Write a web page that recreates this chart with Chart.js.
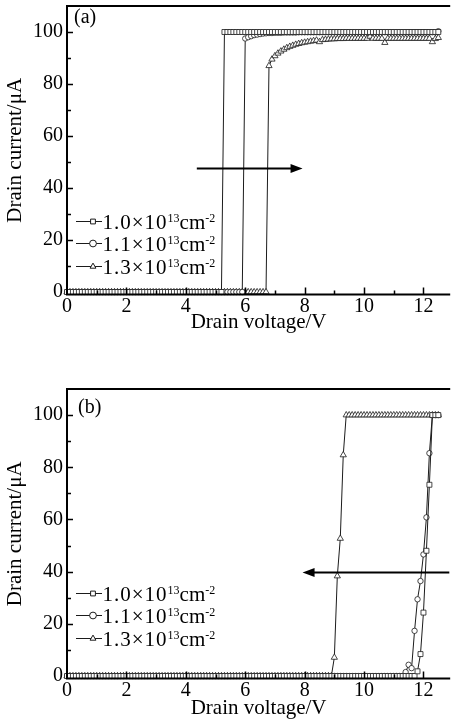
<!DOCTYPE html>
<html>
<head>
<meta charset="utf-8">
<script src="https://cdn.jsdelivr.net/npm/chart.js@4.4.0/dist/chart.umd.min.js"></script>
<style>
html, body { margin: 0; padding: 0; background: #fff; overflow: hidden; }
#wrapA { position: absolute; left: 0; top: 0; width: 455px; height: 340px; }
#wrapB { position: absolute; left: 0; top: 362px; width: 455px; height: 363px; }
</style>
</head>
<body>
<div id="wrapA"><canvas id="chartA"></canvas></div>
<div id="wrapB"><canvas id="chartB"></canvas></div>
<script>
// drain voltage sweep (V)
const voltage = [
  0, 0.1, 0.2, 0.3, 0.4, 0.5, 0.6, 0.7, 0.8, 0.9,
  1, 1.1, 1.2, 1.3, 1.4, 1.5, 1.6, 1.7, 1.8, 1.9,
  2, 2.1, 2.2, 2.3, 2.4, 2.5, 2.6, 2.7, 2.8, 2.9,
  3, 3.1, 3.2, 3.3, 3.4, 3.5, 3.6, 3.7, 3.8, 3.9,
  4, 4.1, 4.2, 4.3, 4.4, 4.5, 4.6, 4.7, 4.8, 4.9,
  5, 5.1, 5.2, 5.3, 5.4, 5.5, 5.6, 5.7, 5.8, 5.9,
  6, 6.1, 6.2, 6.3, 6.4, 6.5, 6.6, 6.7, 6.8, 6.9,
  7, 7.1, 7.2, 7.3, 7.4, 7.5, 7.6, 7.7, 7.8, 7.9,
  8, 8.1, 8.2, 8.3, 8.4, 8.5, 8.6, 8.7, 8.8, 8.9,
  9, 9.1, 9.2, 9.3, 9.4, 9.5, 9.6, 9.7, 9.8, 9.9,
  10, 10.1, 10.2, 10.3, 10.4, 10.5, 10.6, 10.7, 10.8, 10.9,
  11, 11.1, 11.2, 11.3, 11.4, 11.5, 11.6, 11.7, 11.8, 11.9,
  12, 12.1, 12.2, 12.3, 12.4, 12.5
];

// (a) drain current (uA)
const a10 = [
  0, 0, 0, 0, 0, 0, 0, 0, 0, 0,
  0, 0, 0, 0, 0, 0, 0, 0, 0, 0,
  0, 0, 0, 0, 0, 0, 0, 0, 0, 0,
  0, 0, 0, 0, 0, 0, 0, 0, 0, 0,
  0, 0, 0, 0, 0, 0, 0, 0, 0, 0,
  0, 0, 0, 100, 100, 100, 100, 100, 100, 100,
  100, 100, 100, 100, 100, 100, 100, 100, 100, 100,
  100, 100, 100, 100, 100, 100, 100, 100, 100, 100,
  100, 100, 100, 100, 100, 100, 100, 100, 100, 100,
  100, 100, 100, 100, 100, 100, 100, 100, 100, 100,
  100, 100, 100, 100, 100, 100, 100, 100, 100, 100,
  100, 100, 100, 100, 100, 100, 100, 100, 100, 100,
  100, 100, 100, 100, 100, 100
];
const a11 = [
  0, 0, 0, 0, 0, 0, 0, 0, 0, 0,
  0, 0, 0, 0, 0, 0, 0, 0, 0, 0,
  0, 0, 0, 0, 0, 0, 0, 0, 0, 0,
  0, 0, 0, 0, 0, 0, 0, 0, 0, 0,
  0, 0, 0, 0, 0, 0, 0, 0, 0, 0,
  0, 0, 0, 0, 0, 0, 0, 0, 0, 0,
  97.5, 98.0, 98.4, 98.8, 99.0, 99.2, 99.4, 99.5, 99.6, 99.6,
  99.7, 99.7, 99.7, 99.8, 99.8, 99.8, 99.8, 99.8, 99.9, 99.9,
  99.9, 99.9, 99.9, 99.9, 99.9, 99.9, 99.9, 99.9, 99.9, 99.9,
  99.9, 99.9, 99.9, 99.9, 99.9, 99.9, 99.9, 99.9, 99.9, 99.9,
  99.9, 99.9, 99.9, 99.9, 99.9, 99.9, 99.9, 99.9, 99.9, 99.9,
  99.9, 99.9, 99.9, 99.9, 99.9, 99.9, 99.9, 99.9, 99.9, 99.9,
  99.9, 99.9, 99.9, 99.9, 99.9, 100.3
];
const a13 = [
  0, 0, 0, 0, 0, 0, 0, 0, 0, 0,
  0, 0, 0, 0, 0, 0, 0, 0, 0, 0,
  0, 0, 0, 0, 0, 0, 0, 0, 0, 0,
  0, 0, 0, 0, 0, 0, 0, 0, 0, 0,
  0, 0, 0, 0, 0, 0, 0, 0, 0, 0,
  0, 0, 0, 0, 0, 0, 0, 0, 0, 0,
  0, 0, 0, 0, 0, 0, 0, 0, 87.0, 89.5,
  90.8, 91.8, 92.6, 93.3, 93.9, 94.4, 94.8, 95.2, 95.5, 95.8,
  96.0, 96.2, 96.4, 96.6, 96.8, 96.2, 97.0, 97.1, 97.2, 97.3,
  97.3, 97.4, 97.4, 97.4, 97.5, 97.5, 97.5, 97.5, 97.5, 97.5,
  97.5, 97.5, 98.3, 97.5, 97.5, 97.5, 97.5, 95.9, 97.5, 97.5,
  97.5, 97.5, 97.5, 97.5, 97.5, 97.5, 97.5, 97.5, 97.5, 97.5,
  97.5, 97.5, 97.5, 96.2, 97.4, 97.8
];

// (b) drain current (uA)
const b10 = [
  0, 0, 0, 0, 0, 0, 0, 0, 0, 0,
  0, 0, 0, 0, 0, 0, 0, 0, 0, 0,
  0, 0, 0, 0, 0, 0, 0, 0, 0, 0,
  0, 0, 0, 0, 0, 0, 0, 0, 0, 0,
  0, 0, 0, 0, 0, 0, 0, 0, 0, 0,
  0, 0, 0, 0, 0, 0, 0, 0, 0, 0,
  0, 0, 0, 0, 0, 0, 0, 0, 0, 0,
  0, 0, 0, 0, 0, 0, 0, 0, 0, 0,
  0, 0, 0, 0, 0, 0, 0, 0, 0, 0,
  0, 0, 0, 0, 0, 0, 0, 0, 0, 0,
  0, 0, 0, 0, 0, 0, 0, 0, 0, 0,
  0, 0, 0, 0, 0, 0, 0, 0, 1.8, 8.4,
  24.3, 48.0, 73.3, 100, 100, 100
];
const b11 = [
  0, 0, 0, 0, 0, 0, 0, 0, 0, 0,
  0, 0, 0, 0, 0, 0, 0, 0, 0, 0,
  0, 0, 0, 0, 0, 0, 0, 0, 0, 0,
  0, 0, 0, 0, 0, 0, 0, 0, 0, 0,
  0, 0, 0, 0, 0, 0, 0, 0, 0, 0,
  0, 0, 0, 0, 0, 0, 0, 0, 0, 0,
  0, 0, 0, 0, 0, 0, 0, 0, 0, 0,
  0, 0, 0, 0, 0, 0, 0, 0, 0, 0,
  0, 0, 0, 0, 0, 0, 0, 0, 0, 0,
  0, 0, 0, 0, 0, 0, 0, 0, 0, 0,
  0, 0, 0, 0, 0, 0, 0, 0, 0, 0,
  0, 0, 0, 0, 1.5, 4.3, 3.0, 17.3, 29.4, 36.4,
  46.6, 60.8, 85.4, 100, 100, 100
];
const b13 = [
  0, 0, 0, 0, 0, 0, 0, 0, 0, 0,
  0, 0, 0, 0, 0, 0, 0, 0, 0, 0,
  0, 0, 0, 0, 0, 0, 0, 0, 0, 0,
  0, 0, 0, 0, 0, 0, 0, 0, 0, 0,
  0, 0, 0, 0, 0, 0, 0, 0, 0, 0,
  0, 0, 0, 0, 0, 0, 0, 0, 0, 0,
  0, 0, 0, 0, 0, 0, 0, 0, 0, 0,
  0, 0, 0, 0, 0, 0, 0, 0, 0, 0,
  0, 0, 0, 0, 0, 0, 0, 0, 0, 0,
  7.1, 38.3, 52.7, 84.7, 100, 100, 100, 100, 100, 100,
  100, 100, 100, 100, 100, 100, 100, 100, 100, 100,
  100, 100, 100, 100, 100, 100, 100, 100, 100, 100,
  100, 100, 100, 100, 100, 100
];

const xTicks = [0, 2, 4, 6, 8, 10, 12];
const xMinor = [1, 3, 5, 7, 9, 11];
const yTicks = [0, 20, 40, 60, 80, 100];
const yMinor = [10, 30, 50, 70, 90];
const doses = ['1.0', '1.1', '1.3'];
const markers = ['rect', 'circle', 'triangle'];
const markerSize = [3.5, 2.7, 3.6];

const SERIF = '"Liberation Serif", "Times New Roman", serif';
const INK = '#1b1b1b';

function noPad(s) {
  s.paddingTop = 0; s.paddingBottom = 0; s.paddingLeft = 0; s.paddingRight = 0;
}

// axes frame, inward ticks, arrow, panel letter and legend
const decorPlugin = {
  id: 'decor',
  afterDatasetsDraw(chart, args, o) {
    const { ctx, chartArea: a, scales: { x, y } } = chart;
    ctx.save();
    ctx.strokeStyle = '#000';
    ctx.lineWidth = 2;
    ctx.beginPath();
    ctx.moveTo(a.right, a.top);
    ctx.lineTo(a.left, a.top);
    ctx.lineTo(a.left, a.bottom);
    ctx.lineTo(a.right, a.bottom);
    ctx.stroke();

    ctx.lineWidth = 1.5;
    ctx.beginPath();
    xTicks.slice(1).forEach(v => {
      const px = Math.round(x.getPixelForValue(v)) + 0.5;
      ctx.moveTo(px, a.bottom); ctx.lineTo(px, a.bottom - 7);
    });
    xMinor.forEach(v => {
      const px = Math.round(x.getPixelForValue(v)) + 0.5;
      ctx.moveTo(px, a.bottom); ctx.lineTo(px, a.bottom - 4);
    });
    yTicks.slice(1).forEach(v => {
      const py = Math.round(y.getPixelForValue(v)) + 0.5;
      ctx.moveTo(a.left, py); ctx.lineTo(a.left + 6, py);
    });
    yMinor.forEach(v => {
      const py = Math.round(y.getPixelForValue(v)) + 0.5;
      ctx.moveTo(a.left, py); ctx.lineTo(a.left + 4, py);
    });
    ctx.stroke();

    // arrow
    const ar = o.arrow;
    const x0 = x.getPixelForValue(ar.from);
    const x1 = x.getPixelForValue(ar.to);
    const py = Math.round(y.getPixelForValue(ar.at)) + 0.5;
    const dir = Math.sign(x1 - x0);
    ctx.lineWidth = 2;
    ctx.beginPath();
    ctx.moveTo(x0, py); ctx.lineTo(x1 - dir * 8, py);
    ctx.stroke();
    ctx.fillStyle = '#000';
    ctx.beginPath();
    ctx.moveTo(x1, py);
    ctx.lineTo(x1 - dir * 12, py - 4.5);
    ctx.lineTo(x1 - dir * 12, py + 4.5);
    ctx.closePath();
    ctx.fill();

    // panel letter
    ctx.fillStyle = '#000';
    ctx.font = '20px ' + SERIF;
    ctx.textBaseline = 'middle';
    ctx.textAlign = 'left';
    ctx.fillText(o.panel, a.left + o.panelDx, a.top + o.panelDy);

    // legend
    const lx = a.left + 9;
    doses.forEach((d, i) => {
      const ry = Math.round(a.top + o.legendTop + i * 22.3) + 0.5;
      ctx.strokeStyle = INK;
      ctx.lineWidth = 1;
      ctx.beginPath();
      ctx.moveTo(lx, ry); ctx.lineTo(lx + 26, ry);
      ctx.stroke();
      ctx.fillStyle = '#fff';
      ctx.strokeStyle = INK;
      Chart.helpers.drawPoint(ctx, { pointStyle: markers[i], radius: 3.4, borderWidth: 0.9 }, lx + 17, ry);
      ctx.fillStyle = '#000';
      ctx.textBaseline = 'alphabetic';
      const base = ry + 7;
      let tx = lx + 26.5;
      ctx.font = '21px ' + SERIF;
      const main = d + '\u00d710';
      ctx.letterSpacing = '1px';
      ctx.fillText(main, tx, base);
      tx += ctx.measureText(main).width;
      ctx.letterSpacing = '0px';
      ctx.font = '12px ' + SERIF;
      ctx.fillText('13', tx, base - 7);
      tx += ctx.measureText('13').width;
      ctx.font = '21px ' + SERIF;
      ctx.fillText('cm', tx, base);
      tx += ctx.measureText('cm').width;
      ctx.font = '12px ' + SERIF;
      ctx.fillText('-2', tx, base - 7);
    });
    ctx.restore();
  }
};

function makeChart(id, series, cfg) {
  const datasets = series.map((ys, i) => ({
    label: doses[i],
    data: voltage.map((v, k) => ({ x: v, y: ys[k] })),
    borderColor: INK,
    borderWidth: 1,
    pointStyle: markers[i],
    pointRadius: markerSize[i],
    pointBorderWidth: 0.8,
    pointBackgroundColor: '#fff',
    pointBorderColor: INK,
    clip: false,
    tension: 0
  }));
  return new Chart(document.getElementById(id), {
    type: 'line',
    data: { datasets },
    plugins: [decorPlugin],
    options: {
      responsive: true,
      maintainAspectRatio: false,
      animation: false,
      layout: { padding: { left: 0, right: 0, top: cfg.top, bottom: 0 } },
      plugins: {
        legend: { display: false },
        tooltip: { enabled: false },
        decor: cfg.decor
      },
      scales: {
        x: {
          type: 'linear',
          min: 0,
          max: 12.9,
          afterBuildTicks: s => { s.ticks = xTicks.map(v => ({ value: v })); },
          afterFit: s => { s.height = cfg.xHeight; noPad(s); },
          grid: { display: false, drawTicks: false },
          border: { display: false },
          ticks: { color: '#000', padding: cfg.xPad, font: { family: SERIF, size: 20 } },
          title: {
            display: true,
            text: 'Drain voltage/V',
            color: '#000',
            font: { family: SERIF, size: 21, lineHeight: 1 },
            padding: { top: 0, bottom: cfg.titleBottom }
          }
        },
        y: {
          type: 'linear',
          min: -1,
          max: 110,
          afterBuildTicks: s => { s.ticks = yTicks.map(v => ({ value: v })); },
          afterFit: s => { s.width = 67; noPad(s); },
          grid: { display: false, drawTicks: false },
          border: { display: false },
          ticks: { color: '#000', padding: 4, font: { family: SERIF, size: 20 } },
          title: {
            display: true,
            text: 'Drain current/\u03bcA',
            color: '#000',
            font: { family: SERIF, size: 21, lineHeight: 1 },
            padding: { top: 4.5, bottom: 0 }
          }
        }
      }
    }
  });
}

makeChart('chartA', [a10, a11, a13], {
  top: 6, xHeight: 45.4, xPad: 0, titleBottom: 7.5,
  decor: { panel: '(a)', panelDx: 7, panelDy: 12, legendTop: 215, arrow: { from: 4.37, to: 7.93, at: 47.7 } }
});

makeChart('chartB', [b10, b11, b13], {
  top: 27, xHeight: 46.4, xPad: 0, titleBottom: 6.5,
  decor: { panel: '(b)', panelDx: 11, panelDy: 19, legendTop: 204, arrow: { from: 12.87, to: 7.93, at: 39.7 } }
});
</script>
</body>
</html>
